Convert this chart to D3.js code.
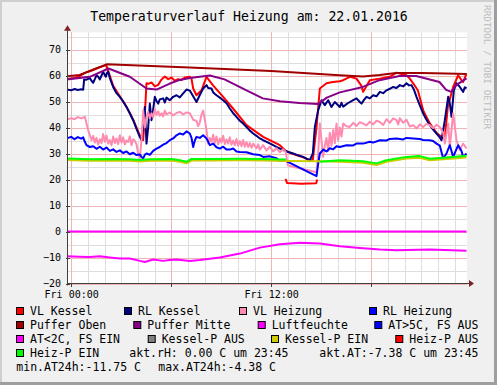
<!DOCTYPE html>
<html><head><meta charset="utf-8">
<script src="https://cdn.jsdelivr.net/npm/d3@7"></script>
<style>
html,body{margin:0;padding:0;background:#f0f0f0;}
svg{display:block;}
text{font-family:"DejaVu Sans Mono",monospace;fill:#000;}
</style></head>
<body><svg id="c" width="497" height="385"></svg>
<script>
// ---------- DATA (hours since Fri 00:00, value in C) ----------
const title = "Temperaturverlauf Heizung am: 22.01.2016";
const xTickHours = [0, 12];
const xTickLabels = ["Fri 00:00", "Fri 12:00"];
const yTicks = [-20, -10, 0, 10, 20, 30, 40, 50, 60, 70];

const vlKessel = [[-0.26,58.6],[0.2,59],[0.5,59.8],[0.82,61],[1.2,61.8],[1.52,62.7],[1.92,63.6],[2.1,64],[2.22,61.8],[2.52,56],[2.92,52],[3.32,48],[3.72,43],[4.12,37],[4.32,35.1],[4.42,45],[4.52,57],[4.62,56.8],[4.82,57.3],[5.02,55.8],[5.22,56.4],[5.42,58.5],[5.62,59.6],[5.82,58.6],[6.02,59.2],[6.22,58],[6.42,58.6],[6.62,58.3],[6.82,59.2],[7.02,59.4],[7.12,59.5],[7.22,58.8],[7.32,55],[7.52,52.4],[7.82,54.3],[8.12,59.5],[8.5,56.3],[9.12,51.8],[9.7,47.4],[10.52,40.9],[11.52,36.4],[12.52,33.2],[12.88,31],[13.32,29.8],[13.92,28.5],[14.32,27.4],[14.5,27.5],[14.72,40],[14.92,55],[15.32,57],[15.7,57.5],[16.12,57.8],[16.32,58.2],[16.72,59.5],[17.12,58.8],[17.42,56],[17.52,53.7],[17.72,56],[17.92,58.2],[18.52,58.8],[19.12,59.5],[19.52,61.1],[19.72,60.8],[20.12,60.1],[20.32,58.8],[20.52,57],[20.8,54.3],[21.12,46.6],[21.52,41.6],[21.94,37.8],[22.32,35.9],[22.42,36],[22.6,48],[22.92,55.6],[23.22,60.1],[23.42,58.2],[23.52,57.5],[23.72,60.8]];

const rlKessel = [[-0.26,54.6],[0,54.3],[0.2,54.8],[0.4,54.4],[0.6,54.7],[0.72,54.5],[0.78,58.5],[0.92,58.4],[1.12,59],[1.22,58],[1.32,57.2],[1.42,58.6],[1.52,60.1],[1.62,59.5],[1.72,58.5],[1.82,60],[1.92,61.4],[2.02,60.2],[2.08,59.5],[2.15,61],[2.22,61.4],[2.32,59],[2.52,55.6],[2.72,53.2],[2.92,51.8],[3.12,50],[3.32,47.9],[3.52,45.5],[3.72,42.8],[3.92,39.5],[4.12,36.4],[4.22,35.1],[4.32,41],[4.42,47.9],[4.52,33.8],[4.62,40],[4.72,49.2],[4.82,42.8],[4.92,47],[5.02,51.8],[5.12,50.2],[5.22,49.2],[5.32,50.8],[5.52,51.2],[5.62,49.6],[5.72,51.5],[5.92,50.5],[6.12,51.8],[6.32,52.4],[6.52,51.6],[6.72,53.1],[6.92,54.6],[7.12,54.2],[7.22,53.1],[7.32,52],[7.52,49.8],[7.72,52.5],[7.92,55],[8.12,56.3],[8.22,55.2],[8.42,55],[8.52,53.5],[8.72,52.4],[8.92,51.5],[9.12,50.5],[9.32,49.3],[9.52,47.3],[9.72,45.5],[9.92,44.1],[10.12,42.6],[10.32,41.5],[10.52,40.2],[10.72,38.8],[10.92,37.7],[11.12,36.8],[11.32,35.8],[11.52,35.1],[11.82,34.2],[12.12,33.2],[12.42,32.2],[12.72,31.3],[13.02,30.6],[13.32,30],[13.62,29.3],[13.92,28.7],[14.12,28],[14.32,27.4],[14.5,30],[14.62,40.2],[14.82,46.6],[15.02,50.5],[15.22,48.6],[15.42,50.5],[15.62,47.9],[15.82,49.8],[16.12,47.9],[16.22,49.5],[16.32,48],[16.52,49],[16.72,49.8],[16.92,50.5],[17.12,51.2],[17.32,49.8],[17.42,49.2],[17.57,50.6],[17.72,51.8],[17.92,51.2],[18.12,52.4],[18.32,52],[18.52,53.7],[18.72,53.2],[18.92,54.3],[19.12,54.9],[19.32,55.6],[19.52,55.2],[19.72,56.3],[19.92,55.8],[20.12,57],[20.27,56.2],[20.42,56.3],[20.57,54.5],[20.72,51.8],[20.92,48.5],[21.12,45.4],[21.32,43],[21.52,40.9],[21.72,39.2],[21.92,37.7],[22.12,36.2],[22.22,35.1],[22.42,42.8],[22.62,51.8],[22.72,49.2],[22.82,44.1],[22.96,54.3],[23.12,57],[23.32,55.6],[23.52,53.7],[23.62,55.5],[23.72,55]];

const vlHeizung = [[-0.26,43.1],[0,43.6],[0.2,43.2],[0.4,44],[0.6,43.5],[0.82,44.1],[0.92,41.5],[1.02,39],[1.22,35.1],[1.32,36.8],[1.42,34.2],[1.52,36],[1.62,33.5],[1.72,35.5],[1.82,34],[1.92,37.5],[2.02,34.5],[2.12,36.8],[2.22,33.8],[2.32,35.2],[2.42,33.2],[2.52,36.5],[2.62,34],[2.72,35.8],[2.82,33.6],[2.92,37],[3.02,34.2],[3.12,36.2],[3.22,33.5],[3.32,35],[3.42,34.4],[3.52,36.6],[3.62,33.2],[3.72,35.5],[3.82,34.8],[3.92,33.6],[4.02,30],[4.12,28.2],[4.22,35],[4.32,46.6],[4.42,40],[4.52,44],[4.62,46],[4.72,43.5],[4.82,45.5],[4.92,44],[5.02,47],[5.12,44.8],[5.22,46.2],[5.32,44.5],[5.42,45.5],[5.52,44.2],[5.62,46.5],[5.72,45],[5.92,45.8],[6.12,44.6],[6.32,45.6],[6.52,46],[6.72,45],[6.92,45.8],[7.12,45.5],[7.32,43],[7.52,42.5],[7.62,40.5],[7.72,42],[7.82,45],[7.92,46.5],[8.02,43],[8.12,39],[8.22,33.8],[8.32,36],[8.42,34.5],[8.52,37.2],[8.62,34],[8.72,36.5],[8.82,33.5],[8.92,35.8],[9.02,34.2],[9.12,36.8],[9.22,33.6],[9.32,35.4],[9.42,33.8],[9.52,36.2],[9.62,33.4],[9.72,35],[9.82,33.2],[9.92,35.6],[10.02,33],[10.12,34.8],[10.22,32.8],[10.32,35.2],[10.42,32.6],[10.52,34.4],[10.62,32.5],[10.72,34],[10.82,32.2],[10.92,33.8],[11.12,32],[11.22,33.5],[11.32,31.5],[11.52,33.2],[11.72,31.2],[11.92,32.6],[12.12,30.8],[12.32,32],[12.52,30.5],[12.72,31.6],[12.88,30.5],[13.0,25.4],[14.72,22.8],[14.82,30],[14.92,41.6],[15.02,35],[15.12,28.7],[15.22,33],[15.32,36],[15.42,31],[15.52,38],[15.62,33],[15.72,39],[15.82,34],[15.92,41.5],[16.02,35],[16.12,40],[16.22,36.5],[16.32,41.5],[16.52,40.5],[16.72,40.2],[16.92,41.8],[17.12,40.6],[17.32,42],[17.52,41.5],[17.72,40.8],[17.92,42.2],[18.12,41.2],[18.32,42.6],[18.52,42.1],[18.72,41],[18.92,43.2],[19.12,41.8],[19.32,43.5],[19.52,42.8],[19.62,41.2],[19.72,43.6],[19.92,41.8],[20.12,43],[20.32,40.4],[20.52,40.9],[20.72,39.6],[20.92,41.2],[21.12,40.2],[21.32,41.4],[21.52,40.9],[21.72,39.8],[21.92,41],[22.12,40.2],[22.32,38],[22.42,33.8],[22.62,41.5],[22.72,32.5],[22.92,45.4],[23.12,35.1],[23.32,31.3],[23.52,33.8],[23.72,31.9]];

const rlHeizung = [[-0.26,35.8],[0,36.4],[0.2,35.5],[0.4,36.3],[0.6,35.7],[0.72,36.2],[0.82,34.5],[0.92,33.2],[1.12,32.5],[1.32,32.8],[1.52,31.8],[1.72,32.6],[1.92,31.5],[2.12,32.3],[2.32,31],[2.52,31.6],[2.72,30.6],[2.92,31.2],[3.12,30.2],[3.32,30.8],[3.52,29.7],[3.72,30.3],[3.92,29.4],[4.12,29.6],[4.22,28.7],[4.32,28.1],[4.42,29.5],[4.52,30],[4.72,29.5],[4.92,31],[5.12,31.9],[5.32,32.5],[5.52,33.4],[5.72,34],[5.92,35.1],[6.12,35.8],[6.32,37],[6.52,37.7],[6.72,37.3],[6.92,38.5],[7.12,37.7],[7.22,36],[7.32,32.5],[7.42,35],[7.52,36.4],[7.72,36],[7.92,37],[8.12,35.8],[8.32,33.2],[8.52,33.8],[8.72,32.4],[8.92,31.9],[9.12,32.6],[9.32,31.5],[9.52,31.5],[9.72,31.9],[9.92,30.8],[10.12,30.6],[10.52,30.5],[10.92,29.7],[11.32,29.4],[11.52,28.7],[11.92,28.9],[12.32,28.2],[12.52,27.2],[12.88,27.2],[14.72,21.3],[14.82,26],[14.92,30],[15.12,31.5],[15.32,30.8],[15.52,32],[15.72,31.6],[15.92,32.8],[16.12,32.5],[16.52,33.2],[16.92,33.1],[17.12,33.8],[17.52,33.8],[17.92,34.5],[18.12,34.2],[18.52,35.1],[18.92,35],[19.12,35.6],[19.52,35.8],[19.92,35.4],[20.12,36],[20.52,35.8],[20.92,35.6],[21.12,35.2],[21.52,35.1],[21.72,34.8],[21.92,33.8],[22.12,33],[22.32,28.1],[22.52,30],[22.72,33.2],[22.92,28.7],[23.22,33.2],[23.42,31],[23.52,28.7],[23.72,30]];

const pufferOben = [[-0.26,59.7],[0.5,60.2],[0.82,61],[1.3,62.2],[2.12,64.3],[7.1,63.1],[12,61.7],[16.1,60.1],[17.5,59.6],[18.5,60.2],[19.5,61],[21,61],[22.5,60.8],[23.72,60.6]];

const pufferMitte = [[-0.26,58.5],[1.12,59.5],[2.24,62.7],[3.52,59.5],[4.52,55],[5.12,54.6],[5.92,56.9],[6.52,58.3],[7.12,59],[8.32,60],[9.2,58.5],[10.52,54.3],[11.5,51.2],[12.52,50.1],[13.7,49.4],[14.8,49],[15.34,51.5],[16.12,53.5],[17.5,55.6],[18.5,58.2],[19.7,59.8],[20.7,59.8],[22.1,57.5],[22.5,54.5],[22.8,53.7],[23.1,56.3],[23.72,58.9]];

const luftfeuchte = [[-0.26,0],[23.72,0]];

const atFsEin = [[-0.26,-9.5],[0.5,-9.7],[1.12,-9.8],[1.72,-9.5],[2.32,-10],[2.6,-10.2],[2.92,-10.4],[3.52,-10.4],[4.12,-11.3],[4.42,-11.7],[4.92,-10.8],[5.52,-11.3],[5.9,-11],[6.32,-10.8],[7.12,-11.3],[7.72,-11],[8.92,-10],[10.12,-8.5],[11.32,-6.2],[12.52,-4.9],[13.72,-4.3],[14.92,-4.6],[16.12,-5.7],[17.32,-6.3],[18.52,-6.9],[19.52,-7.2],[21.52,-6.9],[23.72,-7.4]];

const kesselPEin = [[-0.26,27.5],[1.12,27.2],[2.5,27.3],[3.5,27.2],[4.12,26.9],[4.72,27.2],[6,27.3],[6.52,26.8],[6.92,26.2],[7.22,27.3],[8.5,27.3],[10,27.4],[11.5,27.3],[12.88,27.1],[14.92,27.0],[16.12,26.8],[17.52,26.4],[18.32,25.6],[18.92,26.8],[20.12,28.1],[20.92,28.4],[21.52,27.4],[22.52,27.9],[23.72,28.5]];

const heizPAus = [[12.86,20.2],[12.95,18.7],[13.8,18.4],[14.7,18.6],[14.76,20]];

const heizPEin = [[-0.26,28.1],[1.12,27.8],[2.5,27.9],[3.5,27.8],[4.12,27.5],[4.72,27.8],[6,27.9],[6.52,27.4],[6.92,26.8],[7.22,27.9],[8.5,27.9],[10,28],[11.5,27.9],[12.88,27.7],[13.5,null],[14.92,26.8],[16.12,27.4],[17.52,27],[18.32,26.2],[18.92,27.4],[20.12,28.7],[20.92,29],[21.52,28],[22.52,28.5],[23.72,29.1]];

const seriesNames = ["VL Kessel","RL Kessel","VL Heizung","RL Heizung","Puffer Oben","Puffer Mitte","Luftfeuchte","AT>5C, FS AUS","AT<2C, FS EIN","Kessel-P AUS","Kessel-P EIN","Heiz-P AUS","Heiz-P EIN"];
const seriesColors = ["#ff0000","#000080","#ff8cb0","#0000ff","#a00000","#880088","#ff00ff","#0000ff","#ff00ff","#808080","#cccc00","#ff0000","#00ff00"];
const seriesData = [vlKessel, rlKessel, vlHeizung, rlHeizung, pufferOben, pufferMitte, luftfeuchte, [], atFsEin, [], kesselPEin, heizPAus, heizPEin];
const comments = ["akt.rH: 0.00 C um 23:45", "akt.AT:-7.38 C um 23:45", "min.AT24h:-11.75 C", "max.AT24h:-4.38 C"];

// ---------- LAYOUT ----------
const W = 497, H = 385;
const L = 67, R = 467, T = 32.34, B = 283.5;
const svg = d3.select("#c");

svg.append("rect").attr("width", W).attr("height", H).attr("fill", "#f0f0f0");
// 3D frame
svg.append("rect").attr("x",0).attr("y",0).attr("width",W).attr("height",2).attr("fill","#cfcfcf");
svg.append("rect").attr("x",0).attr("y",0).attr("width",2).attr("height",H).attr("fill","#cfcfcf");
svg.append("rect").attr("x",W-3).attr("y",0).attr("width",3).attr("height",H).attr("fill","#9e9e9e");
svg.append("rect").attr("x",0).attr("y",H-3).attr("width",W).attr("height",3).attr("fill","#9e9e9e");

const x = d3.scaleLinear().domain([-0.25, 23.75]).range([L, R]);
const y = d3.scaleLinear().domain([-20, 76.6]).range([B, T]);

svg.append("rect").attr("x", L).attr("y", T).attr("width", R - L).attr("height", B - T).attr("fill", "#fff");

// grid
const minorY = d3.range(-20, 76, 5).filter(v => v % 10 !== 0);
const majorY = d3.range(-20, 76, 10);
const minorX = d3.range(0, 24).filter(h => h % 6 !== 0);
const majorX = [0, 6, 12, 18];

function gridY(vals, color) {
  const g = svg.append("g").attr("transform", `translate(${L},0)`)
    .call(d3.axisLeft(y).tickValues(vals).tickSize(-(R - L)).tickFormat(""));
  g.select(".domain").remove();
  g.selectAll("line").attr("stroke", color).attr("shape-rendering", "crispEdges");
}
function gridX(vals, color) {
  const g = svg.append("g").attr("transform", `translate(0,${B})`)
    .call(d3.axisBottom(x).tickValues(vals).tickSize(-(B - T)).tickFormat(""));
  g.select(".domain").remove();
  g.selectAll("line").attr("stroke", color).attr("shape-rendering", "crispEdges");
}
gridY(minorY, "#dedede");
gridX(minorX, "#dedede");
gridY(majorY, "#efb4b4");
gridX(majorX, "#efb4b4");

// series
svg.append("clipPath").attr("id", "clip").append("rect")
  .attr("x", L).attr("y", T).attr("width", R - L).attr("height", B - T);
const line = d3.line().defined(d => d[1] !== null).x(d => x(d[0])).y(d => y(d[1]));
const plot = svg.append("g").attr("clip-path", "url(#clip)");
seriesData.forEach((data, i) => {
  if (!data.length) return;
  plot.append("path").datum(data).attr("d", line)
    .attr("fill", "none").attr("stroke", seriesColors[i])
    .attr("stroke-width", 2).attr("stroke-linejoin", "round");
});

// axes
const axisColor = "#404040";
const arrowColor = "#802020";
const yAx = svg.append("g").attr("transform", `translate(${L + 0.5},0)`)
  .call(d3.axisLeft(y).tickValues(yTicks).tickSize(2).tickPadding(4.5).tickFormat(d3.format("d")));
yAx.select(".domain").remove();
yAx.selectAll("line").attr("x1", -2).attr("x2", 2).attr("stroke", axisColor).attr("shape-rendering", "crispEdges");
yAx.selectAll("text").style("font-family", "DejaVu Sans Mono").style("font-size", "10px").attr("fill", "#000");

const xAx = svg.append("g").attr("transform", `translate(0,${B})`)
  .call(d3.axisBottom(x).tickValues(xTickHours).tickSize(3).tickPadding(4.5)
    .tickFormat((d, i) => xTickLabels[i]));
xAx.select(".domain").remove();
xAx.selectAll("line").attr("stroke", axisColor).attr("shape-rendering", "crispEdges");
xAx.selectAll("text").style("font-family", "DejaVu Sans Mono").style("font-size", "10px").attr("fill", "#000");
svg.append("g").attr("transform", `translate(0,${B})`)
  .call(d3.axisBottom(x).tickValues([6, 18]).tickSize(3).tickFormat(""))
  .call(g => { g.select(".domain").remove(); g.selectAll("line").attr("stroke", axisColor).attr("shape-rendering","crispEdges"); });

svg.append("line").attr("x1", L).attr("x2", R + 4).attr("y1", B).attr("y2", B).attr("stroke", axisColor);
svg.append("line").attr("x1", L + 0.5).attr("x2", L + 0.5).attr("y1", B + 2).attr("y2", T - 3).attr("stroke", axisColor);
svg.append("path").attr("d", `M${R + 2},${B - 3.5} L${R + 7},${B} L${R + 2},${B + 3.5} Z`).attr("fill", arrowColor);
svg.append("path").attr("d", `M${L + 0.5 - 3.5},${T - 1.5} L${L + 0.5},${T - 7} L${L + 0.5 + 3.5},${T - 1.5} Z`).attr("fill", arrowColor);

// title
svg.append("text").attr("x", 249).attr("y", 21).attr("text-anchor", "middle")
  .style("font-size", "13.2px").text(title);

// watermark
svg.append("text").attr("transform", "translate(483.5,5) rotate(90)")
  .style("font-size", "9.4px").attr("fill", "#bdbdbd").style("fill", "#bdbdbd")
  .text("RRDTOOL / TOBI OETIKER");

// legend
const legendPos = [
  [30, 315], [138, 315], [253, 315], [383, 315],
  [30, 329], [147.3, 329], [271.7, 329], [388.3, 329],
  [30, 343], [161.7, 343], [285, 343], [409.3, 343],
  [30, 357]
];
const lg = svg.append("g");
seriesNames.forEach((name, i) => {
  const [tx, ty] = legendPos[i];
  lg.append("rect").attr("x", tx - 13.5).attr("y", ty - 7.5).attr("width", 7).attr("height", 7)
    .attr("fill", seriesColors[i]).attr("stroke", "#000").attr("stroke-width", 1);
  lg.append("text").attr("x", tx).attr("y", ty).style("font-size", "11.5px").text(name);
});
const commentPos = [[129.3, 357], [319.3, 357], [16.3, 371], [158.3, 371]];
comments.forEach((c, i) => {
  lg.append("text").attr("x", commentPos[i][0]).attr("y", commentPos[i][1])
    .style("font-size", "11.5px").text(c);
});
</script></body></html>
